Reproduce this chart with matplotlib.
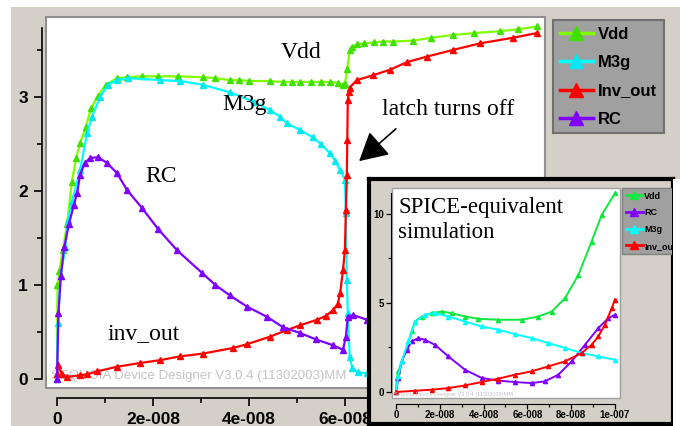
import matplotlib.pyplot as plt
import numpy as np
from matplotlib.patches import Rectangle
from matplotlib.ticker import FuncFormatter, MultipleLocator

# main simulation (time in units of 1e-8 s, volts)
t_vdd = [0, 0.01, 0.05, 0.12, 0.21, 0.31, 0.4, 0.48, 0.6, 0.71, 0.85, 1.02, 1.25, 1.46, 1.77,
         2.1, 2.52, 3.04, 3.3, 3.6, 3.8, 4.0, 4.44, 4.7, 4.9, 5.06, 5.3, 5.5, 5.69, 5.85,
         5.96, 6.0, 6.05, 6.1, 6.15, 6.25, 6.4, 6.6, 6.8, 7.0, 7.42, 7.8, 8.25, 8.7, 9.23, 9.6, 10.0]
v_vdd = [0.05, 1.0, 1.15, 1.37, 1.65, 2.1, 2.35, 2.51, 2.68, 2.88, 3.01, 3.13, 3.2, 3.21, 3.22,
         3.22, 3.22, 3.21, 3.2, 3.18, 3.18, 3.17, 3.17, 3.16, 3.16, 3.16, 3.16, 3.16, 3.16, 3.15,
         3.13, 3.14, 3.3, 3.5, 3.53, 3.56, 3.57, 3.58, 3.59, 3.59, 3.6, 3.63, 3.66, 3.68, 3.70, 3.72, 3.75]

t_m3g = [0, 0.02, 0.08, 0.17, 0.23, 0.31, 0.48, 0.63, 0.73, 0.9, 1.06, 1.25, 1.48, 2.15, 2.56,
         3.04, 3.6, 4.1, 4.44, 4.65, 4.79, 5.06, 5.33, 5.5, 5.69, 5.8, 5.9, 6.0, 6.02, 6.04,
         6.06, 6.1, 6.15, 6.27, 6.46, 7.0, 8.0, 9.0, 10.0]
v_m3g = [0.0, 0.6, 1.1, 1.4, 1.69, 1.88, 2.22, 2.62, 2.79, 3.0, 3.13, 3.18, 3.2, 3.18, 3.17,
         3.13, 3.05, 2.95, 2.86, 2.79, 2.72, 2.65, 2.57, 2.5, 2.4, 2.32, 2.22, 2.12, 1.77, 1.05,
         0.7, 0.23, 0.12, 0.07, 0.06, 0.05, 0.05, 0.05, 0.05]

t_rc = [0, 0.03, 0.08, 0.15, 0.25, 0.35, 0.42, 0.48, 0.58, 0.69, 0.85, 1.04, 1.25, 1.46, 1.77,
        2.1, 2.5, 3.02, 3.3, 3.6, 3.96, 4.38, 4.71, 5.06, 5.4, 5.75, 5.96, 6.02, 6.06, 6.17,
        6.46, 7.0, 8.0, 9.0, 10.0]
v_rc = [0.0, 0.7, 1.1, 1.4, 1.65, 1.85, 1.98, 2.17, 2.3, 2.35, 2.36, 2.3, 2.19, 2.01, 1.82,
        1.6, 1.37, 1.13, 1.0, 0.89, 0.77, 0.66, 0.55, 0.49, 0.42, 0.36, 0.31, 0.45, 0.66, 0.68,
        0.63, 0.6, 0.55, 0.5, 0.45]

t_inv = [0, 0.02, 0.1, 0.2, 0.48, 0.63, 0.83, 1.25, 1.73, 2.15, 2.56, 3.04, 3.67, 3.96, 4.44,
         4.79, 5.06, 5.42, 5.6, 5.75, 5.85, 5.9, 5.96, 6.0, 6.02, 6.04, 6.05, 6.06, 6.08, 6.1,
         6.25, 6.58, 6.94, 7.29, 7.71, 8.25, 8.81, 9.5, 10.0]
v_inv = [0.05, 0.15, 0.05, 0.02, 0.04, 0.05, 0.08, 0.13, 0.17, 0.2, 0.24, 0.27, 0.33, 0.37, 0.45,
         0.52, 0.57, 0.63, 0.67, 0.73, 0.8, 0.91, 1.16, 1.37, 1.8, 2.17, 2.54, 2.97, 3.05, 3.1,
         3.18, 3.23, 3.29, 3.37, 3.43, 3.5, 3.57, 3.63, 3.68]

# SPICE-equivalent simulation (inset)
ts_vdd = [0, 0.03, 0.11, 0.26, 0.49, 0.72, 0.87, 1.17, 1.63, 2.09, 2.54, 3.15, 3.76, 4.67,
          5.74, 6.5, 7.11, 7.72, 8.33, 8.93, 9.39, 10.0]
vs_vdd = [0.0, 0.78, 1.16, 1.72, 2.47, 3.4, 3.96, 4.24, 4.43, 4.52, 4.43, 4.24, 4.11, 4.06,
          4.06, 4.24, 4.52, 5.27, 6.58, 8.45, 9.94, 11.16]
ts_rc = [0, 0.11, 0.26, 0.49, 0.72, 1.02, 1.32, 1.78, 2.39, 3.15, 3.91, 4.67, 5.43, 6.19,
         6.8, 7.41, 8.02, 8.63, 9.24, 9.7, 10.0]
vs_rc = [0.0, 0.78, 1.72, 2.37, 2.84, 3.03, 2.93, 2.65, 2.0, 1.25, 0.79, 0.64, 0.56, 0.5,
         0.6, 0.97, 1.72, 2.65, 3.59, 4.15, 4.34]
ts_m3g = [0, 0.1, 0.26, 0.56, 0.87, 1.32, 1.78, 2.39, 3.15, 3.91, 4.67, 5.43, 6.19, 6.96,
          7.72, 8.48, 9.24, 10.0]
vs_m3g = [0.0, 0.9, 1.72, 2.84, 3.96, 4.34, 4.43, 4.24, 3.96, 3.68, 3.5, 3.25, 3.03, 2.75,
          2.47, 2.19, 2.0, 1.81]
ts_inv = [0, 0.87, 1.63, 2.39, 3.15, 3.91, 4.67, 5.43, 6.19, 6.96, 7.72, 8.48, 8.93, 9.24,
          9.54, 9.85, 10.0]
vs_inv = [0.0, 0.07, 0.13, 0.22, 0.37, 0.56, 0.75, 0.97, 1.16, 1.44, 1.72, 2.19, 2.65, 3.12,
          3.78, 4.71, 5.18]

W, H = 680, 426
GRAY = '#d4d0c8'


def fx(px):
    return px / W


def fy(py):
    return 1 - py / H


def sci(v, pos):
    if abs(v) < 1e-12:
        return '0'
    m, e = '{:.0e}'.format(v).split('e')
    return '%se-%03d' % (m, abs(int(e)))


def sci_main(v, pos):
    # labels past 6e-008 sit under the inset in the reference
    if v > 7e-8:
        return ''
    return sci(v, pos)


fig = plt.figure(figsize=(6.8, 4.26), dpi=100)
fig.patch.set_facecolor('white')
fig.patches.append(Rectangle((fx(11), 0), 1, fy(7), transform=fig.transFigure,
                             facecolor=GRAY, edgecolor='none', zorder=-5))

# ---- main chart ----
ax = fig.add_axes([fx(46), fy(388), fx(545) - fx(46), fy(17) - fy(388)])
ax.set_facecolor('white')
sc = 1e-8
series = [
    (t_vdd, v_vdd, '#80ff00', '#40e000', 'Vdd'),
    (t_m3g, v_m3g, '#00ffff', '#00e8f0', 'M3g'),
    (t_inv, v_inv, '#ff0000', '#ff0000', 'Inv_out'),
    (t_rc, v_rc, '#8000ff', '#8000ff', 'RC'),
]
for t, v, c, mc, lab in series:
    ax.plot(np.array(t) * sc, v, color=c, lw=1.6, marker='^', ms=4.5,
            mfc=mc, mec=mc, label=lab)

ax.set_xlim(-0.229e-8, 10.17e-8)
ax.set_ylim(-0.096, 3.851)
for s in ['top', 'right']:
    ax.spines[s].set_visible(False)
ax.spines['left'].set_position(('outward', 3))
ax.spines['bottom'].set_position(('outward', 7))
ax.spines['left'].set_bounds(0, 3.73)
ax.spines['bottom'].set_bounds(0, 1e-7)
ax.spines['left'].set_linewidth(1.2)
ax.spines['bottom'].set_linewidth(1.2)
ax.set_yticks([0, 1, 2, 3])
ax.yaxis.set_minor_locator(MultipleLocator(0.5))
ax.set_xticks(np.arange(0, 11, 2) * sc)
ax.xaxis.set_minor_locator(MultipleLocator(1e-8))
ax.xaxis.set_major_formatter(FuncFormatter(sci_main))
ax.tick_params(which='major', length=6, width=1.2, pad=4)
ax.tick_params(which='minor', length=3.5, width=1.2)
for lbl in ax.get_xticklabels() + ax.get_yticklabels():
    lbl.set_fontfamily('Liberation Sans')
    lbl.set_fontweight('bold')
    lbl.set_fontsize(12.5)
ax.add_patch(Rectangle((0, 0), 1, 1, transform=ax.transAxes, fill=False,
                       edgecolor='#909090', lw=1.5, clip_on=False))
ax.text(0.01, 0.025, 'SEQUOIA Device Designer V3.0.4 (11302003)MM', transform=ax.transAxes,
        fontsize=9.5, color='#c4c4c4', family='Liberation Sans', zorder=0.5)

leg = fig.legend(*ax.get_legend_handles_labels(), loc='upper left',
                 bbox_to_anchor=(fx(553), fy(20)), borderaxespad=0, frameon=True,
                 fancybox=False, facecolor='#a0a0a0', edgecolor='#707070', framealpha=1,
                 prop={'family': 'Liberation Sans', 'weight': 'bold', 'size': 12},
                 markerscale=2.2, handlelength=2.0, handletextpad=0.3, labelspacing=0.8,
                 borderpad=0.4)
leg.get_frame().set_linewidth(1.5)
for h in leg.get_lines():
    h.set_linewidth(2.5)

serif = {'family': 'Liberation Serif', 'size': 17}
fig.text(fx(281), fy(58), 'Vdd', va='baseline', **serif)
fig.text(fx(222), fy(110), 'M3g', va='baseline', **serif)
fig.text(fx(145), fy(182), 'RC', va='baseline', **serif)
fig.text(fx(108), fy(339), 'inv_out', va='baseline', **serif)
fig.text(fx(382), fy(115), 'latch turns off', va='baseline', **serif)
ax.annotate('', xy=(357, H - 163), xytext=(398, H - 127),
            xycoords='figure pixels', textcoords='figure pixels',
            arrowprops=dict(arrowstyle='-|>,head_length=0.55,head_width=0.3',
                            mutation_scale=32, color='black', lw=1.2))

# ---- inset: SPICE-equivalent simulation ----
box = fig.add_axes([fx(369), fy(424), fx(673) - fx(369), fy(179) - fy(424)], zorder=3)
box.set_facecolor(GRAY)
box.set_xticks([])
box.set_yticks([])
for s in box.spines.values():
    s.set_linewidth(3)
    s.set_color('black')

ins = fig.add_axes([fx(392), fy(398), fx(620) - fx(392), fy(188) - fy(398)], zorder=4)
ins.set_facecolor('white')
inset_series = [
    (ts_vdd, vs_vdd, '#10e840', 'Vdd'),
    (ts_rc, vs_rc, '#8000ff', 'RC'),
    (ts_m3g, vs_m3g, '#00ffff', 'M3g'),
    (ts_inv, vs_inv, '#ff0000', 'Inv_out'),
]
for t, v, c, lab in inset_series:
    ins.plot(np.array(t) * sc, v, color=c, lw=1.4, marker='^', ms=3, mfc=c, mec=c, label=lab)
ins.set_xlim(-0.183e-8, 10.23e-8)
ins.set_ylim(-0.337, 11.46)
for s in ['top', 'right']:
    ins.spines[s].set_visible(False)
ins.spines['left'].set_position(('outward', 1))
ins.spines['bottom'].set_position(('outward', 4))
ins.spines['left'].set_bounds(0, 11.2)
ins.spines['bottom'].set_bounds(0, 1e-7)
ins.set_yticks([0, 5, 10])
ins.yaxis.set_minor_locator(MultipleLocator(2.5))
ins.set_xticks(np.arange(0, 11, 2) * sc)
ins.xaxis.set_minor_locator(MultipleLocator(1e-8))
ins.xaxis.set_major_formatter(FuncFormatter(sci))
ins.tick_params(which='major', length=3.5, width=0.9, pad=1.5)
ins.tick_params(which='minor', length=2.2, width=0.9)
for lbl in ins.get_xticklabels() + ins.get_yticklabels():
    lbl.set_fontfamily('Liberation Sans')
    lbl.set_fontweight('bold')
    lbl.set_fontsize(7)
ins.add_patch(Rectangle((0, 0), 1, 1, transform=ins.transAxes, fill=False,
                        edgecolor='#a0a0a0', lw=1, clip_on=False))
ins.text(0.01, 0.01, 'Sequoia Device Designer V3.0.4 (11302003)MM', transform=ins.transAxes,
         fontsize=4, color='#c4c4c4', family='Liberation Sans')
fig.text(fx(398), fy(213), 'SPICE-equivalent', va='baseline', zorder=6,
         family='Liberation Serif', size=16.5)
fig.text(fx(398), fy(238), 'simulation', va='baseline', zorder=6,
         family='Liberation Serif', size=16.5)

ileg = fig.legend(*ins.get_legend_handles_labels(), loc='upper left',
                  bbox_to_anchor=(fx(622), fy(188)), borderaxespad=0, frameon=True,
                  fancybox=False, facecolor='#a0a0a0', edgecolor='#808080', framealpha=1,
                  prop={'family': 'Liberation Sans', 'weight': 'bold', 'size': 6.5},
                  markerscale=2.0, handlelength=1.9, handletextpad=0.15, labelspacing=0.85,
                  borderpad=0.4)
ileg.set_zorder(7)
for h in ileg.get_lines():
    h.set_linewidth(2)

# the reference crops the inset legend at the inset frame
fig.patches.append(Rectangle((fx(671.5), 0), 1, fy(180), transform=fig.transFigure,
                             facecolor='black', edgecolor='none', zorder=8))
fig.patches.append(Rectangle((fx(673), 0), 1, fy(180) + 0.002, transform=fig.transFigure,
                             facecolor='white', edgecolor='none', zorder=8))

fig.savefig('out.png', dpi=100)
